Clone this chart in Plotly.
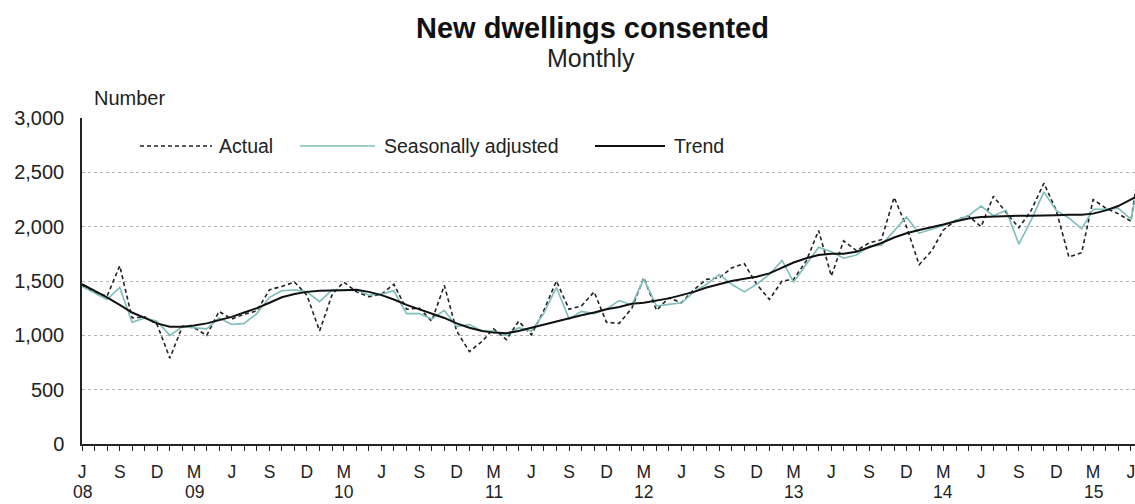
import pandas as pd
import plotly.graph_objects as go

# Monthly categories: Jun 2008 .. Jul 2015
months = pd.date_range("2008-06-01", periods=86, freq="MS")

actual = [1460, 1400, 1360, 1640, 1160, 1170, 1100, 790, 1085, 1070, 1000, 1220, 1150, 1195, 1225, 1420, 1450, 1490, 1370, 1040, 1380, 1490,
          1400, 1355, 1380, 1470, 1240, 1250, 1130, 1460, 1040, 850, 945, 1060, 960, 1130, 1005, 1225, 1500, 1240, 1270, 1400,
          1120, 1110, 1250, 1530, 1230, 1345, 1300, 1420, 1515, 1530, 1620, 1660, 1470, 1330, 1500, 1515, 1685, 1965, 1545, 1870, 1780, 1850,
          1880, 2270, 2000, 1650, 1780, 1970, 2060, 2100, 2000, 2280, 2130, 1990, 2150, 2400, 2150, 1720, 1760, 2250, 2170, 2120, 2050, 2800]

seasonally_adjusted = [1450, 1390, 1330, 1440, 1120, 1160, 1130, 1000, 1080, 1070, 1060, 1160, 1100, 1110, 1200, 1350, 1410, 1420, 1400, 1310, 1420, 1420,
                       1420, 1370, 1380, 1410, 1200, 1200, 1150, 1230, 1080, 1100, 1040, 1040, 1000, 1070, 1040, 1200, 1440, 1150, 1220, 1200,
                       1240, 1320, 1280, 1520, 1270, 1285, 1300, 1400, 1470, 1560, 1470, 1400, 1470, 1560, 1690, 1490, 1650, 1810, 1770, 1710, 1740, 1820,
                       1830, 1960, 2090, 1940, 1980, 2010, 2060, 2100, 2190, 2100, 2150, 1840, 2060, 2320, 2150, 2080, 1980, 2160, 2160, 2170, 2070, 2600]

trend = [1470, 1410, 1350, 1280, 1210, 1160, 1110, 1080, 1080, 1090, 1110, 1140, 1170, 1210, 1250, 1300, 1350, 1380, 1400, 1410, 1410, 1415,
         1420, 1400, 1370, 1330, 1280, 1240, 1200, 1160, 1110, 1070, 1040, 1025, 1020, 1040, 1070, 1100, 1130, 1160, 1185, 1210,
         1240, 1260, 1290, 1300, 1320, 1340, 1370, 1400, 1440, 1470, 1500, 1520, 1540, 1570, 1620, 1670, 1710, 1740, 1750, 1750, 1770, 1810,
         1850, 1900, 1940, 1970, 1995, 2020, 2050, 2075, 2090, 2095, 2100, 2100, 2100, 2100, 2105, 2110, 2110, 2120, 2150, 2190, 2250, 2310]

month_letters = {6: "J", 9: "S", 12: "D", 3: "M"}
year_labels = ["08", "09", "10", "11", "12", "13", "14", "15"]
year_label_months = ["2008-06-01", "2009-03-01", "2010-03-01", "2011-03-01",
                     "2012-03-01", "2013-03-01", "2014-03-01", "2015-03-01"]
y_ticks = [0, 500, 1000, 1500, 2000, 2500, 3000]

FONT = "Liberation Sans, Arial, sans-serif"
TEAL = "#7dbdbb"

tick_vals = list(months)
tick_text = [month_letters.get(d.month, "") for d in months]

fig = go.Figure()
fig.add_trace(go.Scatter(x=months, y=actual, mode="lines", name="Actual",
                         line=dict(color="#222222", width=1.6, dash="4px,3px")))
fig.add_trace(go.Scatter(x=months, y=seasonally_adjusted, mode="lines", name="Seasonally adjusted",
                         line=dict(color=TEAL, width=1.6)))
fig.add_trace(go.Scatter(x=months, y=trend, mode="lines", name="Trend",
                         line=dict(color="#111111", width=2)))

L, R, T, B = 82, 1135, 118, 444
W, H = 1135, 504
pw, ph = R - L, B - T

def px(xp):
    return (xp - L) / pw

def py(yp):
    return (B - yp) / ph

# manual legend
leg_y = py(146)
legend_items = [
    (140, 212, dict(color="#222222", width=1.6, dash="4px,3px"), 217, "Actual"),
    (300, 375, dict(color=TEAL, width=1.6), 382, "Seasonally adjusted"),
    (595, 665, dict(color="#111111", width=2), 672, "Trend"),
]
shapes = []
annotations = []
for x0, x1, ln, tx, txt in legend_items:
    shapes.append(dict(type="line", xref="paper", yref="paper", x0=px(x0), x1=px(x1),
                       y0=leg_y, y1=leg_y, line=ln))
    annotations.append(dict(xref="paper", yref="paper", x=px(tx), y=leg_y, text=txt,
                            showarrow=False, xanchor="left", yanchor="middle",
                            font=dict(family=FONT, size=19.5, color="#222222")))

# year labels under the month letters
for ym, yl in zip(year_label_months, year_labels):
    annotations.append(dict(xref="x", yref="paper", x=ym, y=py(492), text=yl,
                            showarrow=False, xanchor="center", yanchor="middle",
                            font=dict(family=FONT, size=17.5, color="#222222")))

annotations.append(dict(xref="paper", yref="paper", x=px(592), y=py(28),
                        text="<b>New dwellings consented</b>", showarrow=False,
                        xanchor="center", yanchor="middle",
                        font=dict(family=FONT, size=29, color="#111111")))
annotations.append(dict(xref="paper", yref="paper", x=px(591), y=py(58),
                        text="Monthly", showarrow=False,
                        xanchor="center", yanchor="middle",
                        font=dict(family=FONT, size=25, color="#222222")))
annotations.append(dict(xref="paper", yref="paper", x=px(92), y=py(98),
                        text="Number", showarrow=False,
                        xanchor="left", yanchor="middle",
                        font=dict(family=FONT, size=20, color="#222222")))

fig.update_layout(
    width=W, height=H,
    margin=dict(l=L, r=W - R, t=T, b=H - B),
    paper_bgcolor="white", plot_bgcolor="white",
    showlegend=False,
    shapes=shapes, annotations=annotations,
    font=dict(family=FONT, size=19, color="#222222"),
    xaxis=dict(range=["2008-06-01", "2015-06-11"], tickmode="array", automargin=False,
               tickvals=tick_vals, ticktext=tick_text, ticks="outside", ticklen=5,
               tickcolor="#222222", showline=True, linecolor="#222222", linewidth=1.5,
               showgrid=False, tickangle=0, ticklabelstandoff=6, ticklabeloverflow="allow",
               tickfont=dict(family=FONT, size=17.5)),
    yaxis=dict(range=[0, 3000], tickmode="array", tickvals=y_ticks, automargin=False,
               ticktext=[f"{v:,}" for v in y_ticks], showline=True, linecolor="#222222",
               linewidth=1.5, showgrid=True, gridcolor="#b5b5b5", griddash="dot",
               gridwidth=1, zeroline=False, ticks="", ticklabelstandoff=12,
               tickfont=dict(family=FONT, size=20)),
)

fig.write_html("out.html", config={"displayModeBar": False},
               post_script="document.body.style.margin='0';")
